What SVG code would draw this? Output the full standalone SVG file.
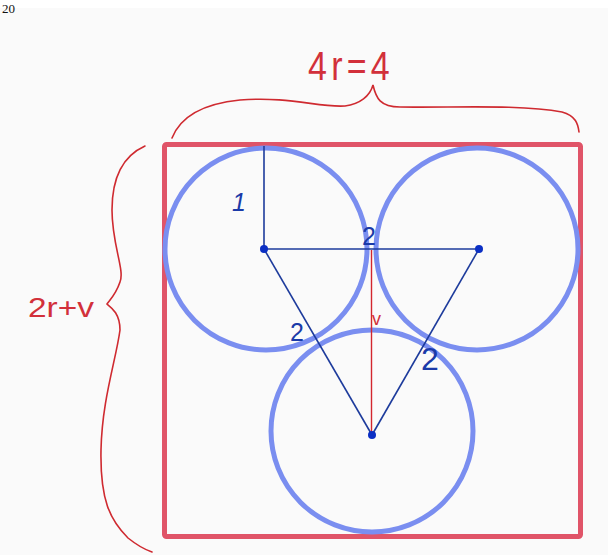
<svg xmlns="http://www.w3.org/2000/svg" width="608" height="555" viewBox="0 0 608 555">
<style>
.circ{fill:none;stroke:#7a8ef0;stroke-width:5}
.seg{stroke:#1d3b9c;stroke-width:1.6;fill:none}
.dot{fill:#0b2fc4}
.brace{fill:none;stroke:#cf2a30;stroke-width:1.6;stroke-linecap:round}
.rl{font-family:"Liberation Sans",sans-serif;fill:#d2303a;font-weight:300}
.bl{font-family:"Liberation Sans",sans-serif;fill:#1a3aa8}
</style>
<rect x="0" y="0" width="608" height="555" fill="#fafafa"/>
<rect x="0" y="0" width="608" height="8" fill="#ffffff"/>
<text x="2" y="13" font-family="Liberation Serif,serif" font-size="13" fill="#111">20</text>
<g id="square"><rect x="164.5" y="144.5" width="416" height="392" fill="none" stroke="#e05468" stroke-width="5" rx="2"/></g>
<g id="circle-left"><circle class="circ" cx="266" cy="249" r="101"/></g>
<g id="circle-right"><circle class="circ" cx="477" cy="249" r="101"/></g>
<g id="circle-bottom"><circle class="circ" cx="372" cy="431" r="101"/></g>
<g id="connectors">
<line class="seg" x1="264" y1="146" x2="264" y2="249"/>
<line class="seg" x1="264" y1="249" x2="479" y2="249"/>
<line class="seg" x1="264" y1="249" x2="372" y2="435"/>
<line class="seg" x1="479" y1="249" x2="372" y2="435"/>
<line x1="371.5" y1="250" x2="371.5" y2="435" stroke="#d3262e" stroke-width="1.4"/>
<circle class="dot" cx="264" cy="249" r="4"/>
<circle class="dot" cx="479" cy="249" r="4"/>
<circle class="dot" cx="372" cy="435" r="4"/>
</g>
<g id="labels">
<text class="bl" x="232" y="211" font-size="25" font-style="italic">1</text>
<text class="bl" x="362" y="245" font-size="25">2</text>
<text class="bl" x="290" y="341" font-size="25">2</text>
<text class="bl" x="421" y="370" font-size="32">2</text>
<text class="rl" x="372" y="325" font-size="18">v</text>
</g>
<g id="brace-top">
<path class="brace" d="M172,138 C180,118 200,104 240,100 C290,96 320,108 345,106 C360,104 370,96 373,85 C376,98 380,107 400,107 C450,108 520,104 562,112 C576,116 578,124 579,132"/>
<text class="rl" x="308" y="80" font-size="40" letter-spacing="5" textLength="86" lengthAdjust="spacingAndGlyphs">4r=4</text>
</g>
<g id="brace-left">
<path class="brace" d="M145,146 C125,155 112,175 112,210 C112,245 125,270 120,282 C116,294 110,300 107,304 C112,308 120,314 120,330 C116,360 102,400 101,450 C100,500 110,520 128,538 C138,546 146,550 152,552"/>
<text class="rl" x="28" y="317" font-size="28" textLength="66" lengthAdjust="spacingAndGlyphs">2r+v</text>
</g>
</svg>
